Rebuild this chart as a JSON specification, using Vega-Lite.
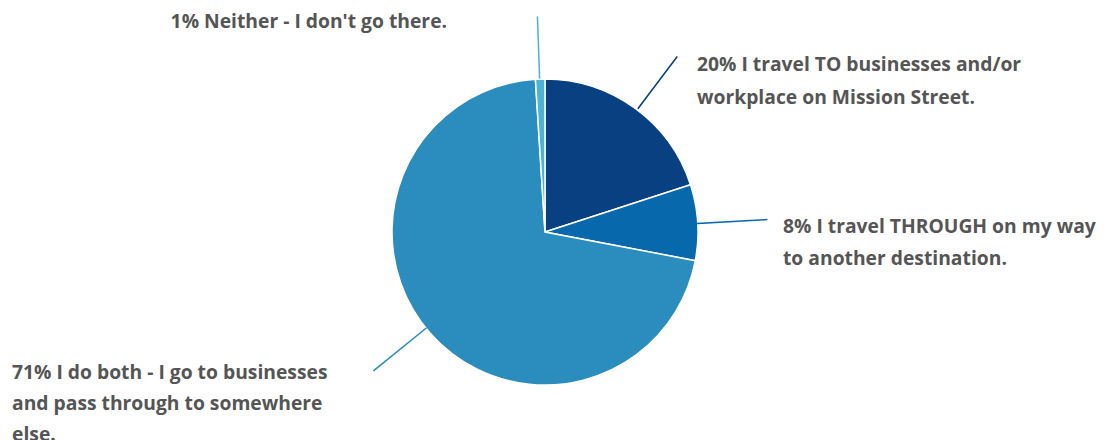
{
  "$schema": "https://vega.github.io/schema/vega-lite/v6.json",
  "width": 1090,
  "height": 416,
  "autosize": {"type": "none"},
  "padding": {"left": 0, "top": 24, "right": 19, "bottom": 0},
  "background": "white",
  "config": {"view": {"stroke": null}},
  "data": {
    "values": [
      {"k": 1, "pct": 20, "answer": "I travel TO businesses and/or workplace on Mission Street.", "label": "20% I travel TO businesses and/or\nworkplace on Mission Street."},
      {"k": 2, "pct": 8, "answer": "I travel THROUGH on my way to another destination.", "label": "8% I travel THROUGH on my way\nto another destination."},
      {"k": 3, "pct": 71, "answer": "I do both - I go to businesses and pass through to somewhere else.", "label": "71% I do both - I go to businesses\nand pass through to somewhere\nelse."},
      {"k": 4, "pct": 1, "answer": "Neither - I don't go there.", "label": "1% Neither - I don't go there."}
    ]
  },
  "layer": [
    {
      "mark": {"type": "arc", "outerRadius": 153, "stroke": "white", "strokeWidth": 1.5},
      "encoding": {
        "theta": {"field": "pct", "type": "quantitative", "stack": true},
        "order": {"field": "k", "type": "quantitative"},
        "color": {
          "field": "answer",
          "type": "nominal",
          "scale": {
            "domain": ["I travel TO businesses and/or workplace on Mission Street.", "I travel THROUGH on my way to another destination.", "I do both - I go to businesses and pass through to somewhere else.", "Neither - I don't go there."],
            "range": ["#084081", "#0868ac", "#2b8cbe", "#4eb3d3"]
          },
          "legend": null
        }
      }
    },
    {
      "transform": [{"filter": "datum.k == 1"}],
      "mark": {"type": "arc", "theta": 0.6458, "theta2": 0.6459, "radius": 219, "radius2": 155, "fillOpacity": 0, "stroke": "#084081", "strokeWidth": 1.5},
      "encoding": {}
    },
    {
      "transform": [{"filter": "datum.k == 2"}],
      "mark": {"type": "arc", "theta": 1.515, "theta2": 1.5151, "radius": 222, "radius2": 153, "fillOpacity": 0, "stroke": "#0868ac", "strokeWidth": 1.5},
      "encoding": {}
    },
    {
      "transform": [{"filter": "datum.k == 3"}],
      "mark": {"type": "arc", "theta": 4.032, "theta2": 4.0321, "radius": 220, "radius2": 153, "fillOpacity": 0, "stroke": "#2b8cbe", "strokeWidth": 1.5},
      "encoding": {}
    },
    {
      "transform": [{"filter": "datum.k == 4"}],
      "mark": {"type": "arc", "theta": 6.248, "theta2": 6.2481, "radius": 215, "radius2": 154, "fillOpacity": 0, "stroke": "#4eb3d3", "strokeWidth": 1.5},
      "encoding": {}
    },
    {
      "transform": [{"filter": "datum.k == 1"}],
      "mark": {"type": "text", "theta": 0.7385, "radius": 225.8, "align": "left", "baseline": "middle", "lineBreak": "\n", "lineHeight": 33, "font": "Open Sans", "fontSize": 19.3, "fontWeight": "bold", "color": "#555555"},
      "encoding": {"text": {"field": "label"}}
    },
    {
      "transform": [{"filter": "datum.k == 2"}],
      "mark": {"type": "text", "theta": 1.5499, "radius": 238.05, "align": "left", "baseline": "middle", "lineBreak": "\n", "lineHeight": 32, "font": "Open Sans", "fontSize": 19.3, "fontWeight": "bold", "color": "#555555"},
      "encoding": {"text": {"field": "label"}}
    },
    {
      "transform": [{"filter": "datum.k == 3"}],
      "mark": {"type": "text", "theta": 4.4539, "radius": 551.3, "align": "left", "baseline": "middle", "lineBreak": "\n", "lineHeight": 31, "font": "Open Sans", "fontSize": 19.3, "fontWeight": "bold", "color": "#555555"},
      "encoding": {"text": {"field": "label"}}
    },
    {
      "transform": [{"filter": "datum.k == 4"}],
      "mark": {"type": "text", "theta": 5.8466, "radius": 231.7, "align": "right", "baseline": "middle", "lineBreak": "\n", "lineHeight": 32, "font": "Open Sans", "fontSize": 19.3, "fontWeight": "bold", "color": "#555555"},
      "encoding": {"text": {"field": "label"}}
    }
  ]
}
